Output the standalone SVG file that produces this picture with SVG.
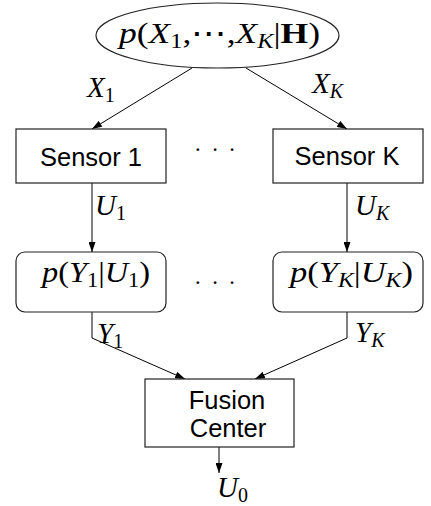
<svg xmlns="http://www.w3.org/2000/svg" width="431" height="506" viewBox="0 0 431 506">
<style>
.box{fill:#fff;stroke:#222;stroke-width:1.2}
.ln{fill:none;stroke:#000;stroke-width:1}
.sans{font-family:"Liberation Sans","DejaVu Sans",sans-serif;font-size:25.5px;fill:#000}
.m{font-family:"Liberation Serif","DejaVu Serif",serif;font-size:29px;fill:#000}
.i{font-style:italic}
.sub{font-size:20px}
.dots{font-family:"Liberation Serif",serif;font-size:23px;letter-spacing:9.5px}
</style>
<defs>
<marker id="ah" markerWidth="10" markerHeight="7" refX="10" refY="3.5" orient="auto" markerUnits="userSpaceOnUse">
<path d="M0,0 L10,3.5 L0,7 z" fill="#000"/>
</marker>
</defs>
<g id="connectors">
<line class="ln" x1="192" y1="68" x2="92" y2="129" marker-end="url(#ah)"/>
<line class="ln" x1="246" y1="68" x2="347" y2="129" marker-end="url(#ah)"/>
<line class="ln" x1="92" y1="183" x2="92" y2="252" marker-end="url(#ah)"/>
<line class="ln" x1="347" y1="183" x2="347" y2="252" marker-end="url(#ah)"/>
<polyline class="ln" points="92,312 92,338 185,379" marker-end="url(#ah)"/>
<polyline class="ln" points="347,312 347,338 255,379" marker-end="url(#ah)"/>
<line class="ln" x1="219" y1="447" x2="219" y2="473" marker-end="url(#ah)"/>
<text class="m" x="87" y="97"><tspan class="i">X</tspan><tspan class="sub" dy="5">1</tspan></text>
<text class="m" x="312" y="93"><tspan class="i">X</tspan><tspan class="sub i" dy="5">K</tspan></text>
<text class="m" x="95" y="215"><tspan class="i">U</tspan><tspan class="sub" dy="5">1</tspan></text>
<text class="m" x="355" y="215"><tspan class="i">U</tspan><tspan class="sub i" dy="5">K</tspan></text>
<text class="m" x="97" y="343"><tspan class="i">Y</tspan><tspan class="sub" dy="5">1</tspan></text>
<text class="m" x="355" y="342"><tspan class="i">Y</tspan><tspan class="sub i" dy="5">K</tspan></text>
<text class="m" x="217" y="497"><tspan class="i">U</tspan><tspan class="sub" dy="5">0</tspan></text>
</g>
<g id="source">
<ellipse class="box" cx="217.5" cy="35.5" rx="121.5" ry="32.5"/>
<text class="m" x="119" y="43" textLength="201" lengthAdjust="spacingAndGlyphs"><tspan class="i">p</tspan>(<tspan class="i">X</tspan><tspan class="sub" dy="5">1</tspan><tspan dy="-5">,⋯,</tspan><tspan class="i">X</tspan><tspan class="sub i" dy="5">K</tspan><tspan dy="-5">|</tspan><tspan font-weight="bold">H</tspan>)</text>
</g>
<g id="sensor1">
<rect class="box" x="16" y="129" width="150" height="54"/>
<text class="sans" x="91" y="166" text-anchor="middle">Sensor 1</text>
</g>
<g id="sensorK">
<rect class="box" x="273" y="129" width="150" height="54"/>
<text class="sans" x="347" y="165" text-anchor="middle">Sensor K</text>
</g>
<g id="dots1">
<text class="dots" x="194" y="157">···</text>
</g>
<g id="channel1">
<rect class="box" x="16" y="252" width="150" height="60" rx="9"/>
<text class="m" x="42" y="282" textLength="108" lengthAdjust="spacingAndGlyphs"><tspan class="i">p</tspan>(<tspan class="i">Y</tspan><tspan class="sub" dy="5">1</tspan><tspan dy="-5">|</tspan><tspan class="i">U</tspan><tspan class="sub" dy="5">1</tspan><tspan dy="-5">)</tspan></text>
</g>
<g id="channelK">
<rect class="box" x="273" y="252" width="150" height="60" rx="9"/>
<text class="m" x="290" y="282" textLength="123" lengthAdjust="spacingAndGlyphs"><tspan class="i">p</tspan>(<tspan class="i">Y</tspan><tspan class="sub i" dy="5">K</tspan><tspan dy="-5">|</tspan><tspan class="i">U</tspan><tspan class="sub i" dy="5">K</tspan><tspan dy="-5">)</tspan></text>
</g>
<g id="dots2">
<text class="dots" x="194" y="290">···</text>
</g>
<g id="fusion">
<rect class="box" x="145" y="379" width="149" height="68"/>
<text class="sans" x="227" y="409" text-anchor="middle">Fusion</text>
<text class="sans" x="228" y="437" text-anchor="middle">Center</text>
</g>
</svg>
